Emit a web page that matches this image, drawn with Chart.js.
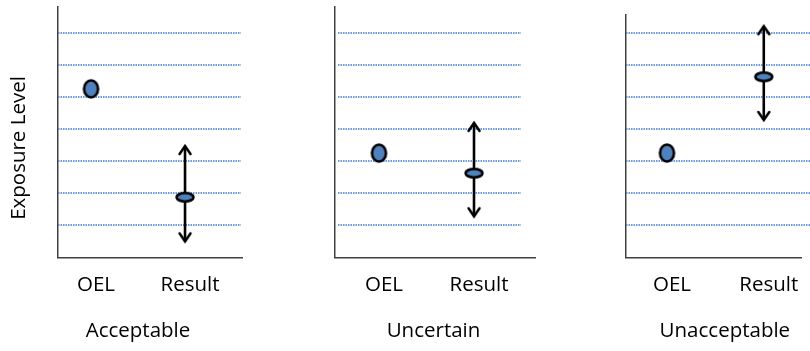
<!DOCTYPE html>
<html><head><meta charset="utf-8">
<script src="https://cdn.jsdelivr.net/npm/chart.js@4.4.0/dist/chart.umd.min.js"></script>
<style>
html,body{margin:0;padding:0;background:#fff;width:810px;height:351px;overflow:hidden}
canvas{position:absolute;top:0}
</style></head><body>
<canvas id="c0" width="250" height="351" style="left:0px"></canvas>
<canvas id="c1" width="260" height="351" style="left:290px"></canvas>
<canvas id="c2" width="230" height="351" style="left:580px"></canvas>
<script>
// ---- data ----
const panelTitles = ["Acceptable", "Uncertain", "Unacceptable"];
const xLabels = ["OEL", "Result"];
const oelValues = [5.25, 3.25, 3.25];
const resultValues = [1.875, 2.625, 5.625];
const resultLow = [0.5, 1.28, 4.28];
const resultHigh = [3.47, 4.19, 7.2];
const gridValues = [1, 2, 3, 4, 5, 6, 7];
const yAxisTitle = "Exposure Level";

// ---- layout per panel ----
const layouts = [
  {pad:{left:58, right:8, top:7, bottom:39}, yMax:7.8, xMin:0.649, xMax:2.606, grid:[58,241], titleDx:-12, yTitle:true},
  {pad:{left:45, right:15, top:7, bottom:39}, yMax:7.8, xMin:0.537, xMax:2.642, grid:[48,231], titleDx:-1.5, yTitle:false},
  {pad:{left:46, right:8, top:15, bottom:39}, yMax:7.55, xMin:0.577, xMax:2.392, grid:[46,230], titleDx:11, yTitle:false}
];

const FONT = "'Open Sans', Lato, sans-serif";
const FSIZE = 20.5;
const FILL = '#4f81bd';

function ellipseMarker(rx, ry) {
  const lw = 2.6;
  const c = document.createElement('canvas');
  c.width = Math.ceil(2 * rx + lw + 2);
  c.height = Math.ceil(2 * ry + lw + 2);
  const g = c.getContext('2d');
  g.beginPath();
  g.ellipse(c.width / 2, c.height / 2, rx, ry, 0, 0, Math.PI * 2);
  g.fillStyle = FILL; g.fill();
  g.lineWidth = lw; g.strokeStyle = '#000'; g.stroke();
  return c;
}
function arrowHead(up) {
  const c = document.createElement('canvas');
  c.width = 16; c.height = 30;
  const g = c.getContext('2d');
  const cx = 8, cy = 15, hw = 5.5, len = 8;
  const d = up ? 1 : -1;
  g.beginPath();
  g.moveTo(cx - hw, cy + d * len);
  g.lineTo(cx, cy);
  g.lineTo(cx + hw, cy + d * len);
  g.lineWidth = 2.5; g.strokeStyle = '#000'; g.lineCap = 'round'; g.lineJoin = 'miter';
  g.stroke();
  return c;
}
const oelMarker = ellipseMarker(7, 8.5);
const resMarker = ellipseMarker(8.5, 4.2);
const upHead = arrowHead(true);
const downHead = arrowHead(false);

const dotGrid = {
  id: 'dotGrid',
  beforeDatasetsDraw(chart, args, opts) {
    const ctx = chart.ctx, y = chart.scales.y;
    ctx.save();
    ctx.strokeStyle = '#3a7bd5';
    ctx.lineWidth = 1.5;
    ctx.setLineDash([1.5, 1]);
    gridValues.forEach(v => {
      const py = Math.round(y.getPixelForValue(v));
      ctx.beginPath();
      ctx.moveTo(opts.left, py);
      ctx.lineTo(opts.right, py);
      ctx.stroke();
    });
    ctx.restore();
  }
};

const panelText = {
  id: 'panelText',
  afterDraw(chart, args, opts) {
    const ctx = chart.ctx, a = chart.chartArea;
    ctx.save();
    ctx.fillStyle = '#000';
    ctx.font = FSIZE + 'px ' + FONT;
    ctx.textAlign = 'center';
    ctx.textBaseline = 'middle';
    ctx.fillText(opts.title, (a.left + a.right) / 2 + opts.dx, 331);
    if (opts.yTitle) {
      ctx.translate(19, 148);
      ctx.rotate(-Math.PI / 2);
      ctx.fillText(opts.yTitle, 0, 0);
    }
    ctx.restore();
  }
};

panelTitles.forEach((title, i) => {
  const L = layouts[i];
  new Chart(document.getElementById('c' + i), {
    type: 'scatter',
    data: {
      datasets: [
        {data: [{x: 1, y: oelValues[i]}], pointStyle: oelMarker, order: 0, clip: false},
        {data: [{x: 2, y: resultValues[i]}], pointStyle: resMarker, order: 0, clip: false},
        {data: [{x: 2, y: resultLow[i]}, {x: 2, y: resultHigh[i]}], showLine: true,
         borderColor: '#000', borderWidth: 2.6, pointStyle: [downHead, upHead], order: 5, clip: false}
      ]
    },
    options: {
      responsive: false,
      animation: false,
      events: [],
      layout: {padding: L.pad},
      plugins: {
        legend: {display: false}, tooltip: {enabled: false},
        dotGrid: {left: L.grid[0], right: L.grid[1]},
        panelText: {title: title, dx: L.titleDx, yTitle: L.yTitle ? yAxisTitle : null}
      },
      scales: {
        x: {
          type: 'linear', min: L.xMin, max: L.xMax,
          afterBuildTicks: s => { s.ticks = xLabels.map((_, k) => ({value: k + 1})); },
          ticks: {callback: v => xLabels[v - 1] || '', font: {family: FONT, size: FSIZE}, color: '#000',
                  padding: 15, labelOffset: 5, maxRotation: 0, autoSkip: false},
          grid: {display: false, drawTicks: false},
          border: {display: true, color: '#404040', width: 1.5}
        },
        y: {
          min: 0, max: L.yMax,
          ticks: {display: false},
          grid: {display: false, drawTicks: false},
          border: {display: true, color: '#404040', width: 1.5}
        }
      }
    },
    plugins: [dotGrid, panelText]
  });
});
</script>
</body></html>
